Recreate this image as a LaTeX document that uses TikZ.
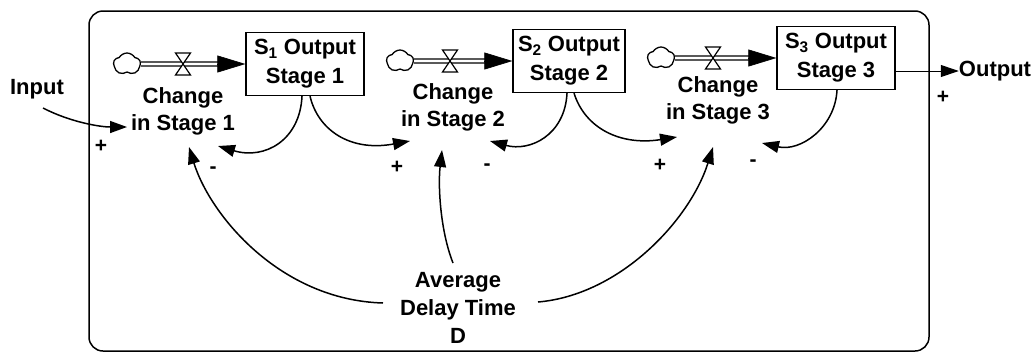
\documentclass[tikz,border=0pt]{standalone}
\usepackage{fontspec}
\setmainfont{Liberation Sans}
\usetikzlibrary{arrows.meta,calc,shapes.symbols}
\begin{document}
\begin{tikzpicture}[x=1pt,y=-1pt,
  txt/.style={font=\fontsize{22}{27}\selectfont\bfseries, align=center, inner sep=0pt},
  stock/.style={draw, line width=1.3pt, minimum width=118pt, minimum height=63pt, align=center, inner sep=1pt, font=\fontsize{22}{29}\selectfont\bfseries},
  sign/.style={font=\fontsize{21}{21}\selectfont\bfseries, inner sep=0pt},
  src/.style={cloud, draw, line width=1.3pt, cloud puffs=5, cloud puff arc=120, aspect=1.2, minimum width=27pt, minimum height=22pt, inner sep=0pt},
  pipe/.style={double, double distance=2.6pt, line width=1.4pt},
  pipetip/.style={line width=0.6pt, -{Triangle[length=28pt,width=17pt]}},
  link/.style={line width=1.5pt, -{Triangle[length=17pt,width=12pt]}},
  valveline/.style={line width=1.2pt, fill=white}
]
\useasboundingbox (0,0) rectangle (1035,354);
% frame
\draw[line width=1.5pt, rounded corners=14pt] (89,11) rectangle (929,351);

% stocks
\node[stock] (s1) at (305,64) {S\textsubscript{1} Output\\Stage 1};
\node[stock, minimum width=112pt] (s2) at (569,61) {S\textsubscript{2} Output\\Stage 2};
\node[stock] (s3) at (836,58) {S\textsubscript{3} Output\\Stage 3};

% sources
\node[src] (k1) at (127,64) {};
\node[src] (k2) at (400,61) {};
\node[src] (k3) at (661,58) {};

% pipes
\draw[pipe] (k1.east) -- ($(s1.west)+(-26,0)$);
\draw[pipetip] ($(s1.west)+(-28,0)$) -- (s1.west);
\draw[pipe] (k2.east) -- ($(s2.west)+(-26,0)$);
\draw[pipetip] ($(s2.west)+(-28,0)$) -- (s2.west);
\draw[pipe] (k3.east) -- ($(s3.west)+(-26,0)$);
\draw[pipetip] ($(s3.west)+(-28,0)$) -- (s3.west);

% valves
\coordinate (v1) at (183,64);
\coordinate (v2) at (450,61);
\coordinate (v3) at (713,58);
\foreach \v in {v1,v2,v3}{
  \draw[valveline] (\v) -- ++(-7.5,-11) -- ++(15,0) -- cycle;
  \draw[valveline] (\v) -- ++(-7.5,11) -- ++(15,0) -- cycle;
}

% labels
\node[txt] (c1) at (183,111) {Change\\in Stage 1};
\node[txt] (c2) at (453,107) {Change\\in Stage 2};
\node[txt] (c3) at (718,100) {Change\\in Stage 3};
\node[txt] (in) at (37,89) {Input};
\node[txt] (out) at (995,71) {Output};
\node[txt, font=\fontsize{22}{28}\selectfont\bfseries] (d) at (458,308) {Average\\Delay Time\\D};

% links
\draw[link] ($(in)+(6,19)$) .. controls (70,122) and (100,127) .. ($(c1)+(-56,16)$);
\draw[link] ([xshift=-3pt]s1.south) .. controls (300,140) and (265,160) .. ($(c1)+(35,35)$);
\draw[link] ([xshift=5pt]s1.south) .. controls (318,130) and (350,152) .. ($(c2)+(-43,34)$);
\draw[link] ([xshift=-2pt]s2.south) .. controls (565,135) and (530,152) .. ($(c2)+(37,34)$);
\draw[link] ([xshift=5pt]s2.south) .. controls (585,128) and (620,146) .. ($(c3)+(-41,37)$);
\draw[link] ([xshift=1pt]s3.south) .. controls (835,128) and (800,152) .. ($(c3)+(44,43)$);
\draw[line width=1pt, -{Triangle[length=18pt,width=12pt]}] (s3.east |- out.west) -- (out.west);
\draw[link] ($(d)+(-75,-5)$) .. controls (280,300) and (210,215) .. ($(c1)+(6,36)$);
\draw[link] ($(d)+(-5,-45)$) .. controls (440,230) and (438,185) .. ($(c2)+(-11,43)$);
\draw[link] ($(d)+(80,-6)$) .. controls (620,295) and (690,220) .. ($(c3)+(-5,47)$);

% signs
\node[sign] (p1) at (101,146) {+};
\node[sign] (m1) at (213,170) {-};
\node[sign] (p2) at (397,167) {+};
\node[sign] (m2) at (487,167) {-};
\node[sign] (p3) at (660,165) {+};
\node[sign] (m3) at (753,163) {-};
\node[sign] (p4) at (943,97) {+};
\end{tikzpicture}
\end{document}
